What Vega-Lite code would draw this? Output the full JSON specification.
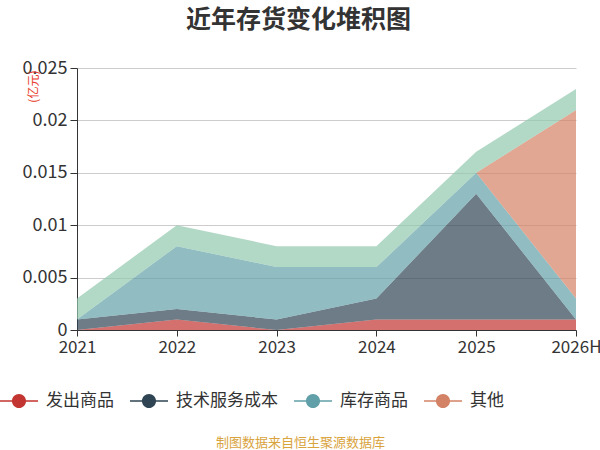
{
  "$schema": "https://vega.github.io/schema/vega-lite/v6.json",
  "width": 499,
  "height": 262,
  "autosize": {"type": "none"},
  "padding": {"left": 77, "top": 68, "right": 24, "bottom": 120},
  "background": "#ffffff",
  "config": {"font": "Noto Sans CJK SC", "view": {"stroke": null}},
  "title": {
    "text": "近年存货变化堆积图",
    "fontSize": 25,
    "fontWeight": "bold",
    "color": "#333333",
    "anchor": "middle",
    "frame": "group",
    "dx": -28,
    "offset": 26
  },
  "data": {
    "values": [
      {"year": "2021", "series": "发出商品", "idx": 1, "value": 0},
      {"year": "2022", "series": "发出商品", "idx": 1, "value": 0.001},
      {"year": "2023", "series": "发出商品", "idx": 1, "value": 0},
      {"year": "2024", "series": "发出商品", "idx": 1, "value": 0.001},
      {"year": "2025", "series": "发出商品", "idx": 1, "value": 0.001},
      {"year": "2026H", "series": "发出商品", "idx": 1, "value": 0.001},
      {"year": "2021", "series": "技术服务成本", "idx": 2, "value": 0.001},
      {"year": "2022", "series": "技术服务成本", "idx": 2, "value": 0.001},
      {"year": "2023", "series": "技术服务成本", "idx": 2, "value": 0.001},
      {"year": "2024", "series": "技术服务成本", "idx": 2, "value": 0.002},
      {"year": "2025", "series": "技术服务成本", "idx": 2, "value": 0.012},
      {"year": "2026H", "series": "技术服务成本", "idx": 2, "value": 0},
      {"year": "2021", "series": "库存商品", "idx": 3, "value": 0},
      {"year": "2022", "series": "库存商品", "idx": 3, "value": 0.006},
      {"year": "2023", "series": "库存商品", "idx": 3, "value": 0.005},
      {"year": "2024", "series": "库存商品", "idx": 3, "value": 0.003},
      {"year": "2025", "series": "库存商品", "idx": 3, "value": 0.002},
      {"year": "2026H", "series": "库存商品", "idx": 3, "value": 0.002},
      {"year": "2021", "series": "其他", "idx": 4, "value": 0},
      {"year": "2022", "series": "其他", "idx": 4, "value": 0},
      {"year": "2023", "series": "其他", "idx": 4, "value": 0},
      {"year": "2024", "series": "其他", "idx": 4, "value": 0},
      {"year": "2025", "series": "其他", "idx": 4, "value": 0},
      {"year": "2026H", "series": "其他", "idx": 4, "value": 0.018},
      {"year": "2021", "series": "原材料", "idx": 5, "value": 0.002},
      {"year": "2022", "series": "原材料", "idx": 5, "value": 0.002},
      {"year": "2023", "series": "原材料", "idx": 5, "value": 0.002},
      {"year": "2024", "series": "原材料", "idx": 5, "value": 0.002},
      {"year": "2025", "series": "原材料", "idx": 5, "value": 0.002},
      {"year": "2026H", "series": "原材料", "idx": 5, "value": 0.002}
    ]
  },
  "mark": {"type": "area", "opacity": 0.7, "interpolate": "linear"},
  "encoding": {
    "x": {
      "field": "year",
      "type": "ordinal",
      "scale": {"type": "point", "padding": 0},
      "axis": {
        "labelAngle": 0,
        "labelFontSize": 17,
        "labelColor": "#333333",
        "labelPadding": 3,
        "domainColor": "#333333",
        "tickColor": "#333333",
        "tickSize": 6,
        "grid": false,
        "title": "制图数据来自恒生聚源数据库",
        "titleFontSize": 13,
        "titleFontWeight": "normal",
        "titleColor": "#d9a33d",
        "titleX": 223,
        "titleY": 112,
        "titleAlign": "center",
        "titleBaseline": "middle"
      }
    },
    "y": {
      "field": "value",
      "type": "quantitative",
      "aggregate": "sum",
      "stack": "zero",
      "scale": {"domain": [0, 0.025], "nice": false},
      "axis": {
        "values": [0, 0.005, 0.01, 0.015, 0.02, 0.025],
        "format": "~g",
        "labelFontSize": 18,
        "labelColor": "#333333",
        "labelPadding": 3,
        "domainColor": "#333333",
        "tickColor": "#333333",
        "tickSize": 7,
        "gridColor": "#cccccc",
        "title": "(亿元)",
        "titleFontSize": 12,
        "titleFontWeight": "normal",
        "titleColor": "#e8392b",
        "titleAngle": -90,
        "titleX": -44,
        "titleY": 2,
        "titleAlign": "right",
        "titleBaseline": "middle"
      }
    },
    "color": {
      "field": "series",
      "type": "nominal",
      "scale": {
        "domain": ["发出商品", "技术服务成本", "库存商品", "其他", "原材料"],
        "range": ["#c23531", "#2f4554", "#61a0a8", "#d48265", "#91c7ae"]
      },
      "legend": {
        "values": ["发出商品", "技术服务成本", "库存商品", "其他"],
        "orient": "none",
        "direction": "horizontal",
        "legendX": -77,
        "legendY": 314,
        "title": null,
        "padding": 0,
        "columnPadding": 16,
        "labelOffset": 8,
        "labelFontSize": 17,
        "labelColor": "#333333",
        "symbolType": "M-1,-0.04L1,-0.04L1,0.04L-1,0.04Z M0.37,0A0.37,0.37,0,1,1,-0.37,0A0.37,0.37,0,1,1,0.37,0Z",
        "symbolSize": 1444,
        "symbolOpacity": 1,
        "symbolStrokeWidth": 0
      }
    },
    "order": {"field": "idx", "type": "quantitative"}
  }
}
